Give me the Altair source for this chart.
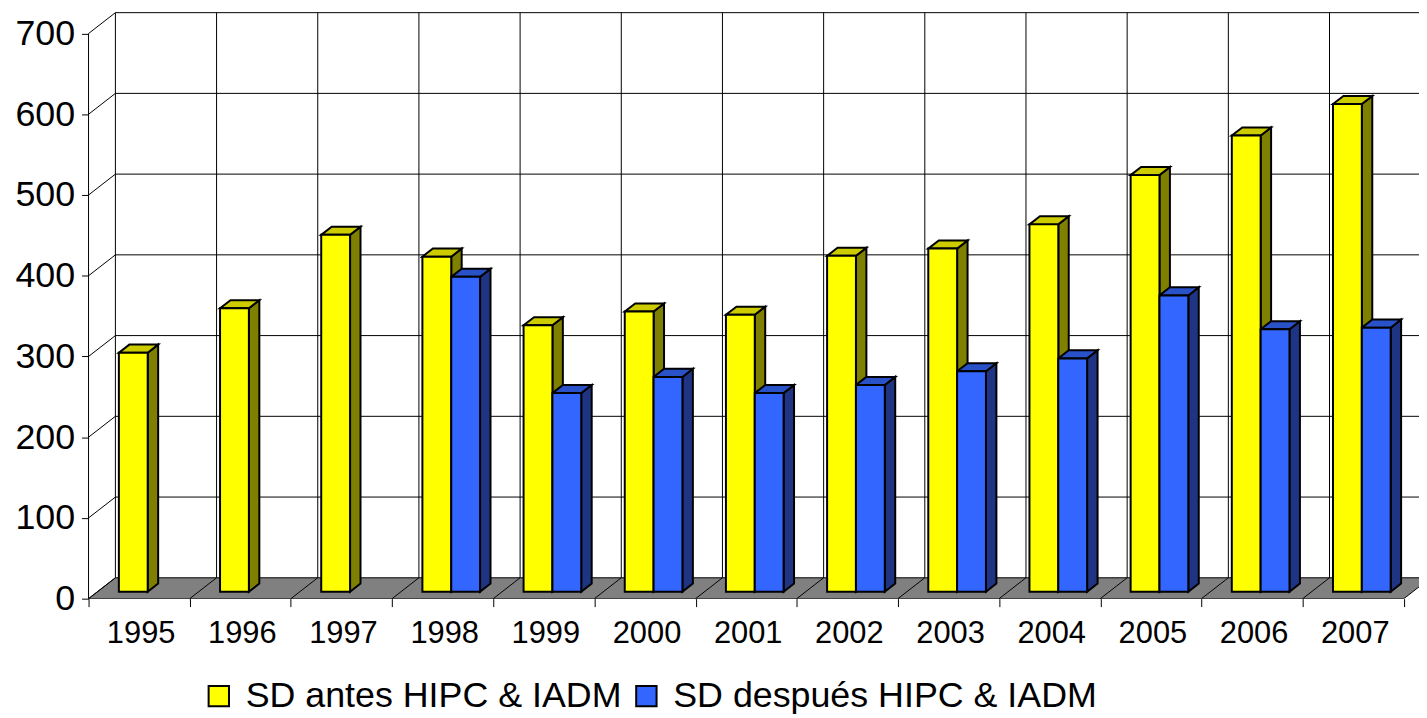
import altair as alt
import pandas as pd

# ---------------- data ----------------
years = [1995, 1996, 1997, 1998, 1999, 2000, 2001, 2002, 2003, 2004, 2005, 2006, 2007]
antes = [296, 351, 442, 415, 330, 347, 343, 416, 425, 455, 516, 565, 604]
despues = [None, None, None, 390, 246, 266, 246, 256, 273, 289, 367, 325, 327]
series_names = ["SD antes HIPC & IADM", "SD después HIPC & IADM"]
y_ticks = [0, 100, 200, 300, 400, 500, 600, 700]

# ---------------- styling ----------------
front_colors = ["#FFFF00", "#3366FF"]
side_colors = ["#808000", "#1F3584"]
top_colors = ["#CCCC00", "#2A52C8"]
floor_color = "#808080"
FONT = "Liberation Sans"

# ---------------- 3-D projection geometry (in data units) ----------------
CAT_PX = 101.75          # pixels per category
VAL_PX = 0.8119          # pixels per value unit
W, H = 1338, 592
X_MAX = W / CAT_PX
Y_MAX = H / VAL_PX
DX = 27 / CAT_PX         # full wall depth, x shift
DY = 21 / VAL_PX         # full wall depth, y shift
F0 = 1 / 3               # depth of bar front plane
FB = 0.389               # bar depth fraction
BAR_OFF = 21.5 / CAT_PX
BAR_W = 29 / CAT_PX
n = len(years)
top_tick = y_ticks[-1]

xscale = alt.Scale(domain=[0, X_MAX], nice=False, zero=False)
yscale = alt.Scale(domain=[0, Y_MAX], nice=False, zero=False)

# ---------------- tables built from the arrays ----------------
fronts, sides, tops = [], [], []
for s, vals in enumerate([antes, despues]):
    for i, v in enumerate(vals):
        if v is None:
            continue
        xl = i + F0 * DX + BAR_OFF + s * BAR_W
        xr = xl + BAR_W
        yb = F0 * DY
        yt = v + F0 * DY
        bdx, bdy = FB * DX, FB * DY
        bid = f"{s}-{years[i]}"
        fronts.append({"series": series_names[s], "year": years[i], "value": v,
                       "xl": xl, "xr": xr, "yb": yb, "yt": yt})
        sides.append({"s": s, "bar": bid, "x": xr, "y": yb, "y2": yt})
        sides.append({"s": s, "bar": bid, "x": xr + bdx, "y": yb + bdy, "y2": yt + bdy})
        tops.append({"s": s, "bar": bid, "y": yt, "x": xl, "x2": xr})
        tops.append({"s": s, "bar": bid, "y": yt + bdy, "x": xl + bdx, "x2": xr + bdx})
fronts = pd.DataFrame(fronts)
sides = pd.DataFrame(sides)
tops = pd.DataFrame(tops)

floor = pd.DataFrame([{"y": 0, "x": 0, "x2": n}, {"y": DY, "x": DX, "x2": n + DX}])
floor_diag = pd.DataFrame([{"x": i, "x2": i + DX, "y": 0, "y2": DY} for i in range(1, n)])
back_vert = pd.DataFrame([{"x": i + DX, "y": DY, "y2": top_tick + DY} for i in range(n + 1)])
back_horz = pd.DataFrame([{"x": DX, "x2": n + DX, "y": v + DY} for v in y_ticks[1:]])
side_diag = pd.DataFrame([{"x": 0, "x2": DX, "y": v, "y2": v + DY} for v in y_ticks])
front_axis = pd.DataFrame([{"x": 0, "y": 0, "y2": top_tick}])
labels = pd.DataFrame([{"year": str(y), "mid": i + 0.5} for i, y in enumerate(years)])

# ---------------- layers ----------------
# first layer carries the axes
floor_l = alt.Chart(floor).mark_area(orient="horizontal", fill=floor_color, stroke="black",
                                     strokeWidth=1, clip=True).encode(
    y=alt.Y("y:Q", scale=yscale,
            axis=alt.Axis(values=y_ticks, labelFontSize=36, labelFont=FONT, labelColor="black",
                          tickSize=7, tickColor="black", tickWidth=1, labelPadding=7,
                          domain=False, grid=False, title=None)),
    x=alt.X("x:Q", scale=xscale,
            axis=alt.Axis(values=list(range(n + 1)), labels=False, tickSize=8, tickColor="black",
                          tickWidth=1, domain=False, grid=False, title=None)),
    x2="x2:Q",
)

rule_kw = dict(color="black", strokeWidth=1)
floor_diag_l = alt.Chart(floor_diag).mark_rule(**rule_kw).encode(
    x=alt.X("x:Q", scale=xscale), x2="x2:Q",
    y=alt.Y("y:Q", scale=yscale), y2="y2:Q")
back_vert_l = alt.Chart(back_vert).mark_rule(clip=True, **rule_kw).encode(
    x=alt.X("x:Q", scale=xscale),
    y=alt.Y("y:Q", scale=yscale), y2="y2:Q")
back_horz_l = alt.Chart(back_horz).mark_rule(clip=True, **rule_kw).encode(
    x=alt.X("x:Q", scale=xscale), x2="x2:Q",
    y=alt.Y("y:Q", scale=yscale))
side_diag_l = alt.Chart(side_diag).mark_rule(**rule_kw).encode(
    x=alt.X("x:Q", scale=xscale), x2="x2:Q",
    y=alt.Y("y:Q", scale=yscale), y2="y2:Q")
front_axis_l = alt.Chart(front_axis).mark_rule(**rule_kw).encode(
    x=alt.X("x:Q", scale=xscale),
    y=alt.Y("y:Q", scale=yscale), y2="y2:Q")

face_kw = dict(stroke="black", strokeWidth=2, strokeJoin="miter")
side_layers, top_layers = [], []
for s in range(2):
    side_layers.append(alt.Chart(sides[sides.s == s]).mark_area(
        orient="vertical", fill=side_colors[s], **face_kw).encode(
        x=alt.X("x:Q", scale=xscale),
        y=alt.Y("y:Q", scale=yscale), y2="y2:Q",
        detail="bar:N"))
    top_layers.append(alt.Chart(tops[tops.s == s]).mark_area(
        orient="horizontal", fill=top_colors[s], **face_kw).encode(
        y=alt.Y("y:Q", scale=yscale),
        x=alt.X("x:Q", scale=xscale), x2="x2:Q",
        detail="bar:N"))

front_l = alt.Chart(fronts).mark_rect(**face_kw).encode(
    x=alt.X("xl:Q", scale=xscale), x2="xr:Q",
    y=alt.Y("yb:Q", scale=yscale), y2="yt:Q",
    fill=alt.Fill("series:N", sort=series_names,
                  scale=alt.Scale(domain=series_names, range=front_colors),
                  legend=alt.Legend(orient="none", legendX=113, legendY=672, direction="horizontal",
                                    title=None, labelFontSize=36, labelFont=FONT, labelColor="black",
                                    symbolType="square", symbolSize=420, symbolStrokeColor="black",
                                    symbolStrokeWidth=2, symbolOpacity=1, labelOffset=9,
                                    columnPadding=6, padding=0, labelLimit=600)),
)

labels_l = alt.Chart(labels).mark_text(fontSize=31, font=FONT, color="black",
                                       baseline="alphabetic", dx=2).encode(
    x=alt.X("mid:Q", scale=xscale),
    y=alt.value(637),
    text="year:N",
)

chart = alt.layer(
    floor_l, floor_diag_l, back_vert_l, back_horz_l, side_diag_l, front_axis_l,
    *side_layers, *top_layers, front_l, labels_l,
).properties(
    width=W, height=H,
    autosize=alt.AutoSizeParams(type="none"),
    padding={"left": 81, "top": 0, "right": 0, "bottom": 118},
).configure_view(strokeWidth=0)

chart.save("out.html", embed_options={"renderer": "svg", "actions": False})
